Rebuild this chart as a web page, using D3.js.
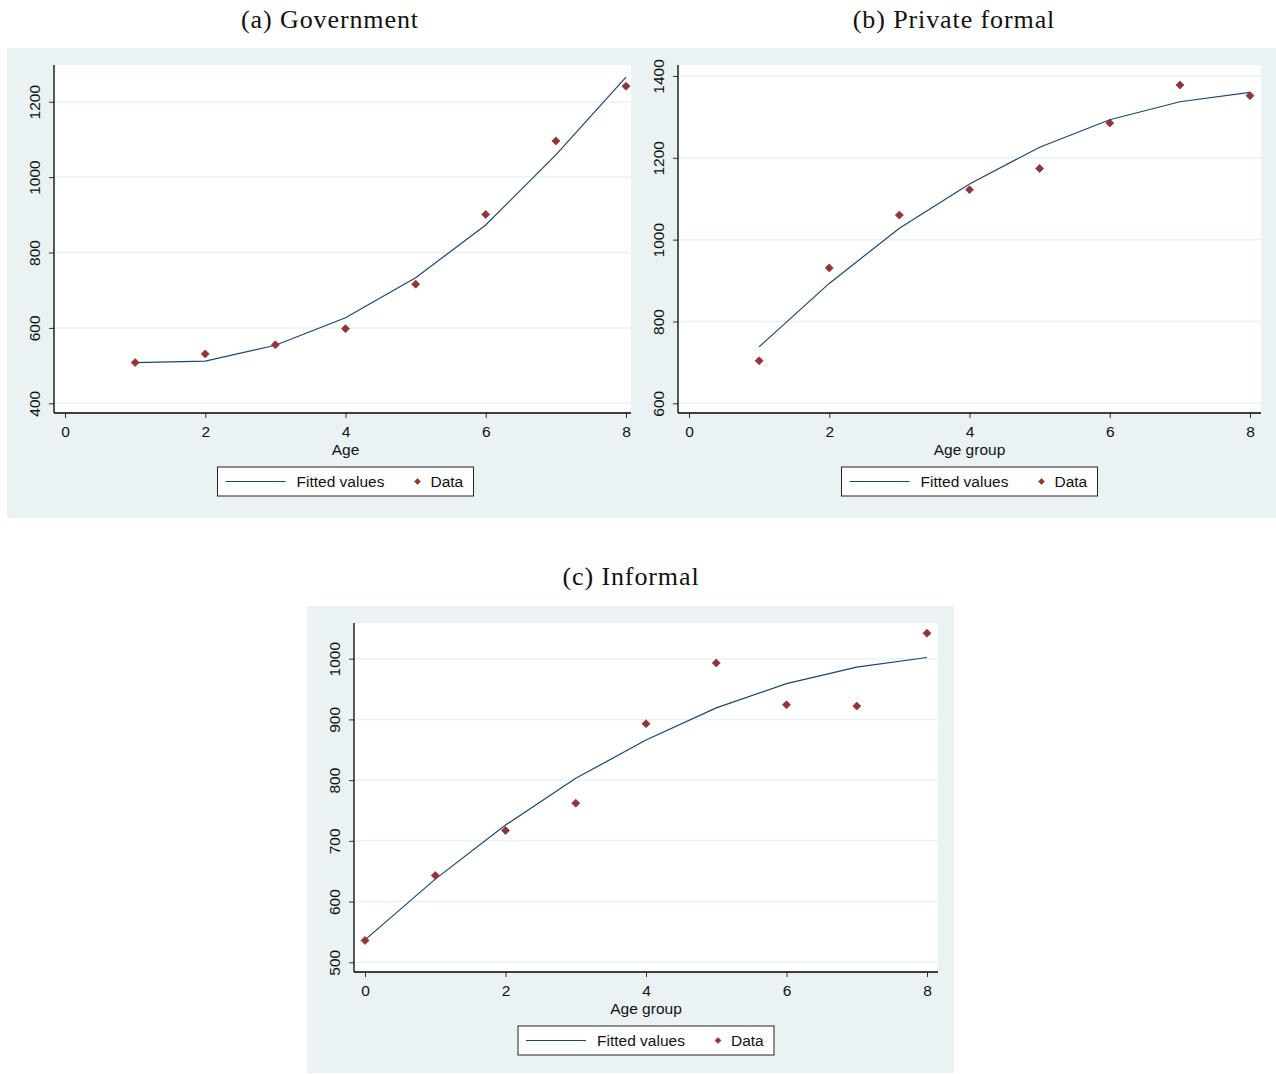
<!DOCTYPE html>
<html>
<head>
<meta charset="utf-8">
<script src="https://cdn.jsdelivr.net/npm/d3@7"></script>
<style>
  html, body { margin: 0; padding: 0; background: #ffffff; }
  svg { display: block; }
</style>
</head>
<body>
<svg id="chart" width="1276" height="1074"></svg>
<script>
// ---------------- DATA ----------------
const titles = ["(a) Government", "(b) Private formal", "(c) Informal"];
const xTitles = ["Age", "Age group", "Age group"];
const legendLabels = ["Fitted values", "Data"];
const xTicks = [0, 2, 4, 6, 8];

const govX    = [1, 2, 3, 4, 5, 6, 7, 8];
const govData = [508, 531, 555, 598, 716, 901, 1096, 1241];
const govFit  = [508, 512, 554, 627, 733, 873, 1059, 1265];
const govYTicks = [400, 600, 800, 1000, 1200];

const privX    = [1, 2, 3, 4, 5, 6, 7, 8];
const privData = [704, 931, 1060, 1122, 1174, 1285, 1378, 1352];
const privFit  = [738, 893, 1028, 1136, 1226, 1293, 1337, 1360];
const privYTicks = [600, 800, 1000, 1200, 1400];

const infX    = [0, 1, 2, 3, 4, 5, 6, 7, 8];
const infData = [536, 643, 717, 762, 893, 993, 924, 922, 1042];
const infFit  = [537, 637, 726, 803, 866, 919, 959, 986, 1002];
const infYTicks = [500, 600, 700, 800, 900, 1000];

// ---------------- STYLE / LAYOUT ----------------
const BG = "#eaf2f3";
const LINE = "#1a476f";
const MARK = "#90353b";
const SANS = "'Liberation Sans', Arial, sans-serif";
const SERIF = "'Liberation Serif', 'DejaVu Serif', serif";

const svg = d3.select("#chart");

const panels = [
  { title: titles[0], xTitle: xTitles[0], xs: govX, data: govData, fit: govFit, yTicks: govYTicks,
    bg: [7, 48, 631, 518], plot: [54, 65, 631, 413], xr: [65, 626], yd: [400, 1200], yr: [403.3, 101.7],
    titleX: 330, titleY: 28 },
  { title: titles[1], xTitle: xTitles[1], xs: privX, data: privData, fit: privFit, yTicks: privYTicks,
    bg: [631, 48, 1276, 518], plot: [678, 65, 1261, 413], xr: [689, 1250], yd: [600, 1400], yr: [403.3, 76],
    titleX: 954, titleY: 28 },
  { title: titles[2], xTitle: xTitles[2], xs: infX, data: infData, fit: infFit, yTicks: infYTicks,
    bg: [307, 606, 954, 1073], plot: [354, 623, 938, 972], xr: [365, 927], yd: [500, 1000], yr: [962.3, 658.7],
    titleX: 631, titleY: 585 }
];

function diamondPath(r) {
  return `M0,${-r}L${r},0L0,${r}L${-r},0Z`;
}

panels.forEach(p => {
  const g = svg.append("g");
  const [bx0, by0, bx1, by1] = p.bg;
  const [px0, py0, px1, py1] = p.plot;

  // graph region background
  g.append("rect").attr("x", bx0).attr("y", by0).attr("width", bx1 - bx0).attr("height", by1 - by0)
    .attr("fill", BG);
  // plot region
  g.append("rect").attr("x", px0).attr("y", py0).attr("width", px1 - px0).attr("height", py1 - py0)
    .attr("fill", "#ffffff");

  // title
  svg.append("text").attr("x", p.titleX).attr("y", p.titleY)
    .attr("text-anchor", "middle").attr("font-family", SERIF).attr("font-size", 26)
    .attr("letter-spacing", 0.9)
    .attr("fill", "#111").text(p.title);

  const x = d3.scaleLinear().domain([0, 8]).range(p.xr);
  const y = d3.scaleLinear().domain(p.yd).range(p.yr);

  // gridlines
  g.selectAll(".grid").data(p.yTicks).enter().append("line")
    .attr("x1", px0 + 1).attr("x2", px1)
    .attr("y1", d => y(d)).attr("y2", d => y(d))
    .attr("stroke", BG).attr("stroke-width", 1.5);

  // y axis
  const yAxis = d3.axisLeft(y).tickValues(p.yTicks).tickSize(5).tickPadding(4).tickFormat(d3.format("d"));
  const ya = g.append("g").attr("transform", `translate(${px0},0)`).call(yAxis);
  ya.select(".domain").remove();
  ya.append("line").attr("x1", 0).attr("x2", 0).attr("y1", py0).attr("y2", py1)
    .attr("stroke", "#000").attr("stroke-width", 1.3);
  ya.selectAll(".tick line").attr("stroke", "#333");
  ya.selectAll(".tick text")
    .attr("font-family", SANS).attr("font-size", 15.5).attr("fill", "#111")
    .attr("text-anchor", "middle")
    .attr("x", null).attr("y", null).attr("dy", 0)
    .attr("transform", "translate(-14,0) rotate(-90)");

  // x axis
  const xAxis = d3.axisBottom(x).tickValues(xTicks).tickSize(5).tickPadding(4).tickFormat(d3.format("d"));
  const xa = g.append("g").attr("transform", `translate(0,${py1})`).call(xAxis);
  xa.select(".domain").remove();
  xa.append("line").attr("x1", px0).attr("x2", px1).attr("y1", 0).attr("y2", 0)
    .attr("stroke", "#000").attr("stroke-width", 1.3);
  xa.selectAll(".tick line").attr("stroke", "#333");
  xa.selectAll(".tick text").attr("font-family", SANS).attr("font-size", 15.5).attr("fill", "#111")
    .attr("dy", "0.71em").attr("y", 13);

  // x title
  g.append("text").attr("x", x(4)).attr("y", py1 + 42)
    .attr("text-anchor", "middle").attr("font-family", SANS).attr("font-size", 15.5).attr("fill", "#111")
    .text(p.xTitle);

  // fitted line
  const lineGen = d3.line().x((d, i) => x(p.xs[i])).y(d => y(d));
  g.append("path").datum(p.fit).attr("d", lineGen)
    .attr("fill", "none").attr("stroke", LINE).attr("stroke-width", 1.2);

  // data markers (diamonds)
  g.selectAll(".pt").data(p.data).enter().append("path")
    .attr("d", diamondPath(4))
    .attr("transform", (d, i) => `translate(${x(p.xs[i])},${y(d)})`)
    .attr("fill", MARK).attr("stroke", MARK).attr("stroke-width", 0.8).attr("stroke-linejoin", "round");

  // legend
  const lw = 256, lh = 29;
  const lx = x(4) - lw / 2, ly = py1 + 54;
  const lg = g.append("g").attr("transform", `translate(${lx},${ly})`);
  lg.append("rect").attr("x", 0).attr("y", 0).attr("width", lw).attr("height", lh)
    .attr("fill", "#ffffff").attr("stroke", "#222").attr("stroke-width", 1);
  lg.append("line").attr("x1", 8).attr("x2", 68).attr("y1", lh / 2).attr("y2", lh / 2)
    .attr("stroke", LINE).attr("stroke-width", 1.2);
  lg.append("text").attr("x", 79).attr("y", lh / 2).attr("dy", "0.36em")
    .attr("font-family", SANS).attr("font-size", 15.5).attr("fill", "#111").text(legendLabels[0]);
  lg.append("path").attr("d", diamondPath(3))
    .attr("transform", `translate(200,${lh / 2})`).attr("fill", MARK)
    .attr("stroke", MARK).attr("stroke-width", 0.6).attr("stroke-linejoin", "round");
  lg.append("text").attr("x", 213).attr("y", lh / 2).attr("dy", "0.36em")
    .attr("font-family", SANS).attr("font-size", 15.5).attr("fill", "#111").text(legendLabels[1]);
});
</script>
</body>
</html>
